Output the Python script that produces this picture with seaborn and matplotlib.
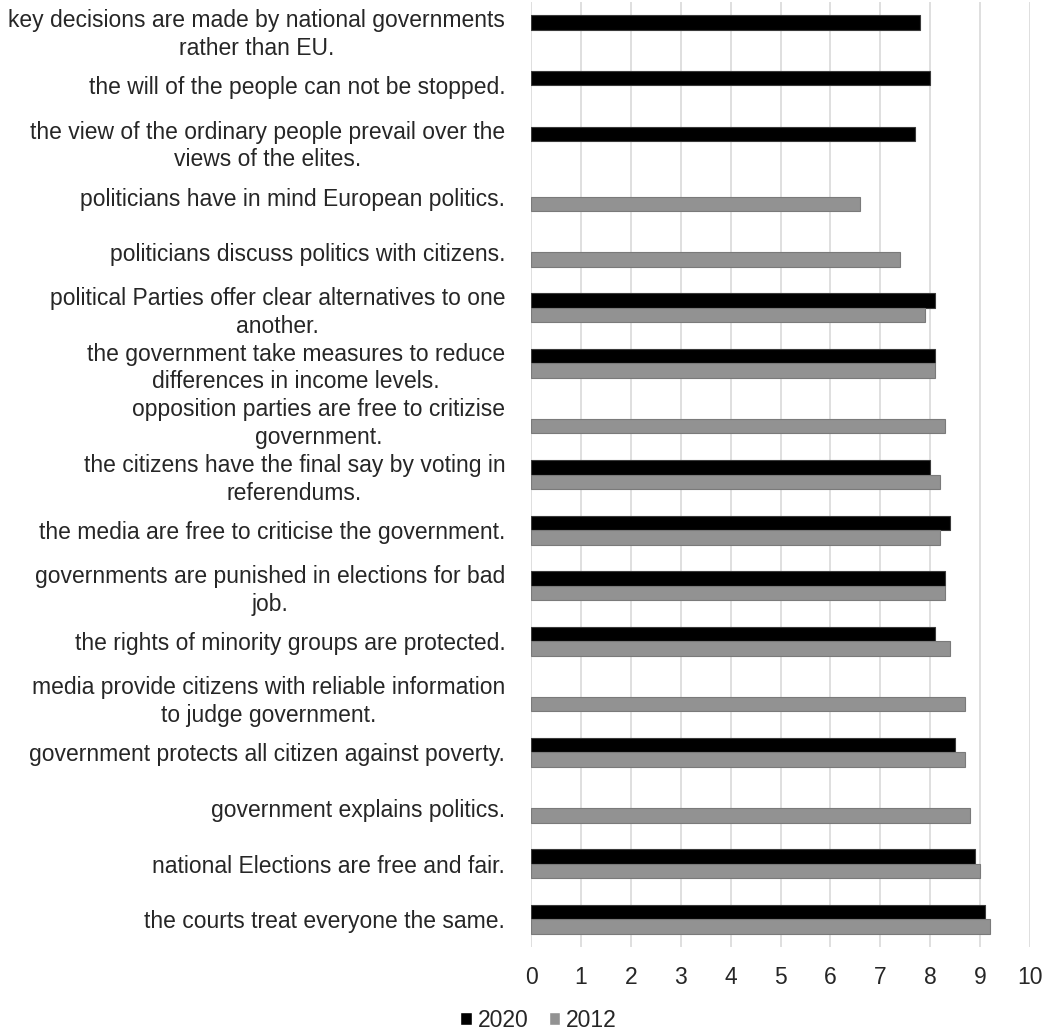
import numpy as np
import pandas as pd
import matplotlib
matplotlib.use("Agg")
import matplotlib.pyplot as plt
import seaborn as sns

# Data (top to bottom)
statements = [
    "key decisions are made by national governments\nrather than EU.",
    "the will of the people can not be stopped.",
    "the view of the ordinary people prevail over the\nviews of the elites.",
    "politicians have in mind European politics.",
    "politicians discuss politics with citizens.",
    "political Parties offer clear alternatives to one\nanother.",
    "the government take measures to reduce\ndifferences in income levels.",
    "opposition parties are free to critizise\ngovernment.",
    "the citizens have the final say by voting in\nreferendums.",
    "the media are free to criticise the government.",
    "governments are punished in elections for bad\njob.",
    "the rights of minority groups are protected.",
    "media provide citizens with reliable information\nto judge government.",
    "government protects all citizen against poverty.",
    "government explains politics.",
    "national Elections are free and fair.",
    "the courts treat everyone the same.",
]
scores_2020 = [7.8, 8.0, 7.7, np.nan, np.nan, 8.1, 8.1, np.nan, 8.0, 8.4, 8.3, 8.1, np.nan, 8.5, np.nan, 8.9, 9.1]
scores_2012 = [np.nan, np.nan, np.nan, 6.6, 7.4, 7.9, 8.1, 8.3, 8.2, 8.2, 8.3, 8.4, 8.7, 8.7, 8.8, 9.0, 9.2]
years = ["2020", "2012"]

# Long format for seaborn
df = pd.concat([
    pd.DataFrame({"statement": statements, "score": scores_2020, "year": "2020"}),
    pd.DataFrame({"statement": statements, "score": scores_2012, "year": "2012"}),
]).dropna()

sns.set_style("white")
plt.rcParams["font.family"] = ["Liberation Sans", "DejaVu Sans"]

fig = plt.figure(figsize=(10.52, 10.34), dpi=100)
ax = fig.add_axes([0.5048, 0.0841, 0.4744, 0.9139])

sns.barplot(data=df, y="statement", x="score", hue="year", hue_order=years,
            order=statements, orient="h", width=0.52, dodge=True,
            palette={"2020": "#000000", "2012": "#929292"},
            ax=ax, legend=False)

# darker outlines like the original
for patch in ax.patches:
    fc = patch.get_facecolor()
    if fc[0] < 0.1:
        patch.set_edgecolor("#3a3a3a")
    else:
        patch.set_edgecolor("#7a7a7a")
    patch.set_linewidth(0.8)

ax.set_xlim(0, 10)
ax.set_xticks(range(0, 11))
ax.set_ylim(len(statements) - 0.5, -0.5)
ax.xaxis.grid(True, color="#d9d9d9", linewidth=1.2)
ax.set_axisbelow(True)
for s in ax.spines.values():
    s.set_visible(False)
ax.set_xlabel("")
ax.set_ylabel("")
ax.tick_params(axis="x", length=0, pad=14, labelsize=16.5)
ax.tick_params(axis="y", length=0, pad=18.5, labelsize=16.5)
for t in ax.get_yticklabels():
    t.set_multialignment("center")
    t.set_linespacing(1.25)

handles = [plt.Rectangle((0, 0), 1, 1, facecolor="#000000"),
           plt.Rectangle((0, 0), 1, 1, facecolor="#929292")]
fig.legend(handles, years, loc="lower center", bbox_to_anchor=(0.512, -0.018),
           ncol=2, frameon=False, fontsize=16.5, handlelength=0.5,
           handleheight=0.5, handletextpad=0.25, columnspacing=0.9)

fig.savefig("out.png", dpi=100)
